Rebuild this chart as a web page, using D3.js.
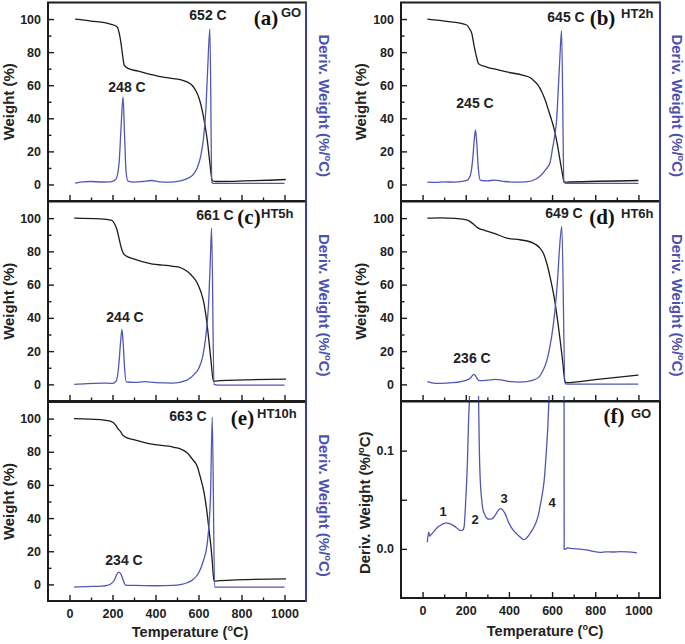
<!DOCTYPE html>
<html>
<head>
<meta charset="utf-8">
<script src="https://cdn.jsdelivr.net/npm/d3@7"></script>
<style>
  html, body { margin: 0; padding: 0; background: #fff; }
  svg { display: block; }
</style>
</head>
<body>
<script>
// ---------------- DATA ----------------
const xTicks = [0, 200, 400, 600, 800, 1000];
const xMinorTicks = [-100, 100, 300, 500, 700, 900, 1100];
const yTicks = [0, 20, 40, 60, 80, 100];
const yMinorTicks = [-10, 10, 30, 50, 70, 90, 110];
const fTicks = [0.0, 0.1];
const fMinorTicks = [0.05];

// Weight (%) vs temperature (°C)
const weightGO = [[26,100],[100,98.8],[190,97],[221,95.3],[232,91],[240,85],[248,77],[255,72],[275,70],[320,68.5],[376,66.6],[430,65],[484,64],[520,63.2],[547,62],[570,60],[586,57],[603,52],[617,45],[630,36],[641,26.7],[652,14],[664,2.4],[680,1.8],[1006,3]];
const weightHT2h = [[22,100],[120,98.5],[204,96.4],[218,94],[228,91.3],[235,86.5],[243,81],[251,76.5],[259,73],[297,71],[350,69.3],[390,68],[467,66],[500,64.5],[513,63],[535,60],[552,56],[568,51],[583,45],[600,38],[614,31],[626,23],[637,14.5],[647,7],[656,1.4],[680,1.5],[1000,2.4]];
const weightHT5h = [[22,100],[143,99.6],[197,98.6],[210,96.5],[221,93],[230,88],[239,83],[248,79.5],[260,77.5],[298,75.5],[376,72.6],[485,71],[520,70],[547,68],[575,64.5],[594,61],[610,56],[625,49],[637,39],[648,26.8],[659,13],[669,2],[700,2.2],[1007,3.2]];
const weightHT6h = [[22,100],[81,100.2],[150,99.8],[204,99],[230,97],[258,94],[290,92.5],[328,91],[390,88],[451,87],[513,85],[540,82.5],[559,79],[575,73],[590,65],[603,57],[614,49],[626,38],[637,27],[649,14],[660,1.6],[667,1],[800,2.8],[1000,5.6]];
const weightHT10h = [[21,100],[143,99.4],[190,98.4],[213,96.4],[225,94],[236,92.4],[248,90],[260,88.8],[298,87.3],[376,84.7],[485,82.7],[520,81.5],[548,79.3],[575,75],[594,71.3],[610,64],[625,56],[637,46],[648,34],[657,24],[664,14],[672,2],[700,2.3],[1007,3.4]];

// Derivative weight (plotted on the same relative scale, right axis unlabeled)
const derivGO = [[26,0.8],[60,1.5],[100,1.8],[150,1.5],[190,1.6],[215,3],[230,12],[240,35],[249,53],[256,30],[263,8],[272,2],[300,1.4],[340,1.8],[380,2.4],[420,1.6],[470,1.4],[510,2],[547,3.5],[575,6],[594,10],[610,17],[625,30],[635,47],[643,71],[653,94],[662,1.4],[670,0.6],[800,0.6],[1000,0.6]];
const derivHT2h = [[22,1.4],[60,1.2],[100,1.6],[150,1.4],[204,2.4],[220,5],[232,15],[240,28],[245,33],[250,27],[258,10],[268,2.5],[300,2.2],[333,2.6],[380,1.8],[430,1.4],[480,1.6],[526,3.3],[572,9.3],[590,13],[603,22.4],[613,30],[621,39],[630,61],[637,79],[644,93],[655,1.4],[665,0.6],[1000,0.6]];
const derivHT5h = [[22,0],[80,0.5],[150,0.8],[200,0.6],[217,2],[228,10],[238,26],[244,33],[250,24],[256,10],[264,1.5],[300,1.2],[350,1.6],[400,1],[480,0.8],[547,2.6],[580,6],[601,9.6],[620,17],[632,26.8],[641,38],[648,51],[655,75],[661,94],[672,0],[690,-0.4],[1000,-0.4]];
const derivHT6h = [[22,1.6],[50,0.8],[80,0.6],[140,1],[204,2.6],[220,3.5],[232,5.5],[238,6],[246,5],[255,3],[265,2.2],[300,2.5],[337,3],[368,2.6],[410,1.6],[451,1.4],[513,2.6],[540,4.5],[559,8.6],[575,14],[590,22.7],[605,35],[618,51],[627,66],[634,81],[645,95],[660,0.4],[670,0.2],[1000,0.2]];
const derivHT10h = [[21,-1.6],[80,-1.3],[150,-1],[175,-0.6],[195,0.5],[210,3],[222,6.5],[230,7.4],[240,6],[250,2.5],[260,-0.4],[300,-0.6],[400,-0.8],[480,-0.6],[520,0],[548,1],[575,3],[601,7],[622,14],[640,24],[650,38],[656,54],[664,100.8],[675,-1.6],[690,-1.6],[1000,-1.6]];

// (f) GO derivative weight (%/°C), zoomed
const derivGOzoom = [[22,0.0068],[28,0.017],[33,0.013],[37,0.014],[50,0.017],[65,0.021],[81,0.0237],[100,0.026],[112,0.0264],[125,0.0257],[143,0.0237],[160,0.021],[177,0.0186],[186,0.019],[192,0.022],[201,0.054],[208,0.09],[213,0.13],[218,0.16],[228,0.3],[240,0.5],[250,0.45],[256,0.25],[259,0.16],[263,0.1],[267,0.071],[273,0.052],[279,0.041],[288,0.035],[298,0.031],[310,0.0302],[321,0.0305],[333,0.033],[344,0.037],[354,0.040],[364,0.041],[373,0.039],[383,0.0356],[395,0.029],[406,0.0237],[420,0.019],[437,0.015],[452,0.012],[468,0.0095],[480,0.0105],[491,0.0136],[505,0.018],[522,0.025],[535,0.033],[545,0.044],[555,0.056],[564,0.071],[570,0.088],[576,0.108],[581,0.128],[585,0.149],[600,0.3],[630,0.8],[652,1.2],[656,0.0],[662,-0.0005],[670,0.001],[684,0.0005],[700,0.0002],[730,-0.0002],[760,-0.001],[790,-0.0025],[823,-0.0035],[850,-0.003],[880,-0.0032],[916,-0.0028],[950,-0.003],[993,-0.004]];

const sampleNames = ["GO", "HT2h", "HT5h", "HT6h", "HT10h", "GO"];
const panelTags = ["(a)", "(b)", "(c)", "(d)", "(e)", "(f)"];
const lowPeakLabels = ["248 C", "245 C", "244 C", "236 C", "234 C"];
const highPeakLabels = ["652 C", "645 C", "661 C", "649 C", "663 C"];
const regionLabels = ["1", "2", "3", "4"];

// ---------------- LAYOUT ----------------
const W = 685, H = 644;
const BLACK = "#1c1c1c", BLUE = "#5257b5", BLUE_FRAME = "#3b3f9c", BLUE_TEXT = "#4c51ae";
const SANS = "'Liberation Sans', Arial, Helvetica, sans-serif";
const SERIF = "'Liberation Serif', 'Times New Roman', serif";

const svg = d3.select("body").append("svg").attr("width", W).attr("height", H)
  .style("font-family", SANS);

const panels = [
  {x0:48,  x1:306, y0:2.5,   y1:201,  weight:weightGO,    deriv:derivGO,    lo:[127,92],  hi:[208,20],  tag:[266,25],  name:[281,17], xLabels:false},
  {x0:401, x1:660, y0:2.5,   y1:201,  weight:weightHT2h,  deriv:derivHT2h,  lo:[475,108], hi:[566,22],  tag:[602.5,25],name:[621,18], xLabels:false},
  {x0:48,  x1:306, y0:201.5, y1:401,  weight:weightHT5h,  deriv:derivHT5h,  lo:[125,322], hi:[215,220], tag:[249,224], name:[261,218],xLabels:false},
  {x0:401, x1:660, y0:201.5, y1:401,  weight:weightHT6h,  deriv:derivHT6h,  lo:[472,363], hi:[564,218], tag:[602,224], name:[621,218],xLabels:false},
  {x0:48,  x1:306, y0:402,   y1:601,  weight:weightHT10h, deriv:derivHT10h, lo:[124,565], hi:[188,421], tag:[242.5,425],name:[257,418],xLabels:true}
];

function tickStyle(g) {
  g.select(".domain").remove();
  g.selectAll(".tick line").attr("stroke", BLACK).attr("stroke-width", 1.4);
  g.selectAll(".tick text").attr("fill", "#222").style("font-family", SANS)
    .style("font-size", "12.5px").style("font-weight", "bold");
}

function drawXAxis(x, p, withLabels) {
  const ax = d3.axisBottom(x).tickValues(xTicks).tickSizeInner(-6).tickSizeOuter(0).tickPadding(8)
    .tickFormat(withLabels ? d3.format("d") : "");
  svg.append("g").attr("transform", `translate(0,${p.y1})`).call(ax).call(tickStyle);
  const axm = d3.axisBottom(x).tickValues(xMinorTicks.filter(v => v > -100 && v < 1100))
    .tickSizeInner(-3.5).tickSizeOuter(0).tickFormat("");
  svg.append("g").attr("transform", `translate(0,${p.y1})`).call(axm).call(tickStyle);
}

function frame(p, rightColor) {
  const g = svg.append("g").attr("fill", "none").attr("stroke-width", 2);
  g.append("path").attr("stroke", BLACK)
    .attr("d", `M${p.x1},${p.y0}H${p.x0}V${p.y1}H${p.x1}`);
  g.append("path").attr("stroke", rightColor)
    .attr("d", `M${p.x1},${p.y0 - 1}V${p.y1 + 1}`);
}

function superC(text, before, after, fs) {
  text.append("tspan").text(before);
  text.append("tspan").text("o").style("font-size", (fs * 0.62) + "px").attr("dy", -fs * 0.42);
  text.append("tspan").text(after).attr("dy", fs * 0.42);
}

panels.forEach((p, i) => {
  const x = d3.scaleLinear().domain([-100, 1100]).range([p.x0, p.x1]);
  const y = d3.scaleLinear().domain([-10, 110]).range([p.y1, p.y0]);

  // y axis
  svg.append("g").attr("transform", `translate(${p.x0},0)`)
    .call(d3.axisLeft(y).tickValues(yTicks).tickSizeInner(-6).tickSizeOuter(0).tickPadding(7).tickFormat(d3.format("d")))
    .call(tickStyle);
  svg.append("g").attr("transform", `translate(${p.x0},0)`)
    .call(d3.axisLeft(y).tickValues(yMinorTicks.filter(v => v > -10 && v < 110)).tickSizeInner(-3.5).tickSizeOuter(0).tickFormat(""))
    .call(tickStyle);
  drawXAxis(x, p, p.xLabels);

  const line = d3.line().x(d => x(d[0])).y(d => y(d[1])).curve(d3.curveMonotoneX);
  svg.append("path").datum(p.weight).attr("d", line)
    .attr("fill", "none").attr("stroke", BLACK).attr("stroke-width", 1.3);
  svg.append("path").datum(p.deriv).attr("d", line)
    .attr("fill", "none").attr("stroke", BLUE).attr("stroke-width", 1.3);

  frame(p, BLUE_FRAME);

  // peak labels
  svg.append("text").attr("x", p.lo[0]).attr("y", p.lo[1]).attr("text-anchor", "middle")
    .style("font-size", "14px").style("font-weight", "bold").attr("fill", "#222").text(lowPeakLabels[i]);
  svg.append("text").attr("x", p.hi[0]).attr("y", p.hi[1]).attr("text-anchor", "middle")
    .style("font-size", "14px").style("font-weight", "bold").attr("fill", "#222").text(highPeakLabels[i]);
  svg.append("text").attr("x", p.tag[0]).attr("y", p.tag[1]).attr("text-anchor", "middle")
    .style("font-family", SERIF).style("font-size", "21px").style("font-weight", "bold").attr("fill", "#111").text(panelTags[i]);
  svg.append("text").attr("x", p.name[0]).attr("y", p.name[1])
    .style("font-size", "13px").style("font-weight", "bold").attr("fill", "#222").text(sampleNames[i]);

  // axis titles
  const cy = (p.y0 + p.y1) / 2;
  const leftTitleX = p.x0 === 48 ? 9 : 361;
  svg.append("text").attr("transform", `translate(${leftTitleX},${cy})rotate(-90)`)
    .attr("text-anchor", "middle").attr("dy", "0.35em")
    .style("font-size", "15px").style("font-weight", "bold").attr("fill", "#222")
    .text("Weight (%)");
  const rightTitleX = p.x0 === 48 ? 324 : 677;
  const rt = svg.append("text").attr("transform", `translate(${rightTitleX},${cy + 4})rotate(90)`)
    .attr("text-anchor", "middle").attr("dy", "0.35em")
    .style("font-size", "15px").style("font-weight", "bold").attr("fill", BLUE_TEXT);
  superC(rt, "Deriv. Weight (%/", "C)", 15);
});

// ---------------- PANEL (f) ----------------
const pf = {x0:401, x1:660, y0:401.5, y1:598};
const xf = d3.scaleLinear().domain([-100, 1100]).range([pf.x0, pf.x1]);
const yf = d3.scaleLinear().domain([-0.05, 0.15]).range([pf.y1, pf.y0]);

svg.append("g").attr("transform", `translate(${pf.x0},0)`)
  .call(d3.axisLeft(yf).tickValues(fTicks).tickFormat(d3.format(".1f")).tickSizeInner(-6).tickSizeOuter(0).tickPadding(7))
  .call(tickStyle);
svg.append("g").attr("transform", `translate(${pf.x0},0)`)
  .call(d3.axisLeft(yf).tickValues(fMinorTicks).tickSizeInner(-6).tickSizeOuter(0).tickFormat(""))
  .call(tickStyle);
drawXAxis(xf, pf, true);

svg.append("clipPath").attr("id", "clipF").append("rect")
  .attr("x", pf.x0).attr("y", 396).attr("width", pf.x1 - pf.x0).attr("height", pf.y1 - 396);
svg.append("path").datum(derivGOzoom)
  .attr("d", d3.line().x(d => xf(d[0])).y(d => yf(d[1])).curve(d3.curveMonotoneX))
  .attr("clip-path", "url(#clipF)")
  .attr("fill", "none").attr("stroke", BLUE).attr("stroke-width", 1.3);
frame(pf, BLACK);

const regionPos = [[443,516],[475,524],[504,503],[552,507]];
regionLabels.forEach((t, k) => {
  svg.append("text").attr("x", regionPos[k][0]).attr("y", regionPos[k][1]).attr("text-anchor", "middle")
    .style("font-size", "13px").style("font-weight", "bold").attr("fill", "#222").text(t);
});
svg.append("text").attr("x", 614).attr("y", 423).attr("text-anchor", "middle")
  .style("font-family", SERIF).style("font-size", "21px").style("font-weight", "bold").attr("fill", "#111").text(panelTags[5]);
svg.append("text").attr("x", 631).attr("y", 418)
  .style("font-size", "13px").style("font-weight", "bold").attr("fill", "#222").text(sampleNames[5]);

const ft = svg.append("text").attr("transform", `translate(365,${(pf.y0 + pf.y1) / 2 + 3})rotate(-90)`)
  .attr("text-anchor", "middle").attr("dy", "0.35em")
  .style("font-size", "15px").style("font-weight", "bold").attr("fill", "#222");
superC(ft, "Deriv. Weight (%/", "C)", 15);

// x titles
const tl = svg.append("text").attr("x", 190).attr("y", 637).attr("text-anchor", "middle")
  .style("font-size", "14.5px").style("font-weight", "bold").attr("fill", "#222");
superC(tl, "Temperature (", "C)", 14.5);
const tr = svg.append("text").attr("x", 545).attr("y", 636).attr("text-anchor", "middle")
  .style("font-size", "14.5px").style("font-weight", "bold").attr("fill", "#222");
superC(tr, "Temperature (", "C)", 14.5);
</script>
</body>
</html>
